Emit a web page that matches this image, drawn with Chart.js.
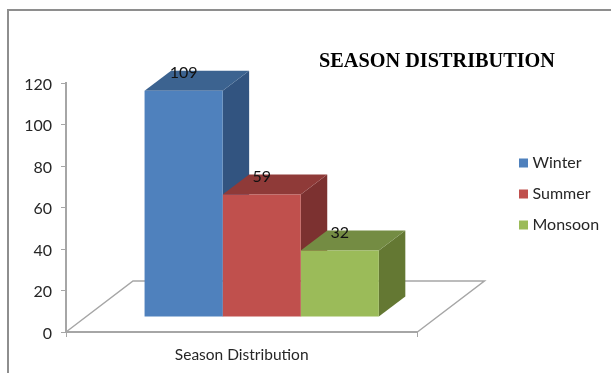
<!DOCTYPE html>
<html>
<head>
<meta charset="utf-8">
<title>Season Distribution</title>
<script src="https://cdn.jsdelivr.net/npm/chart.js@4"></script>
<style>
  html, body { margin: 0; background: #fff; overflow: hidden; }
  #frame { position: absolute; left: 7px; top: 9px; right: 0; bottom: 0;
           border-left: 2px solid #8e8e8e; border-top: 2px solid #8e8e8e; }
  #seasons { position: absolute; left: 0; top: 0; }
</style>
</head>
<body>
<div id="frame"></div>
<canvas id="seasons" width="611" height="373"></canvas>
<script>
// Chart data
const categories = ['Season Distribution'];
const seasons = ['Winter', 'Summer', 'Monsoon'];
const seasonValues = [109, 59, 32];
const yTicks = [0, 20, 40, 60, 80, 100, 120];

// Face colours per season: front, top, side
const frontColors = ['#4f81bd', '#c0504d', '#9bbb59'];
const topColors = ['#3c6390', '#8f3a38', '#748c43'];
const sideColors = ['#325480', '#7c3130', '#647833'];

// Fake 3D look: bars stand on a floor that sits behind the axis line
const barShift = 20;
const barLift = 15;
const depthX = 26.5;
const depthY = 20;
const floorX = 67;
const floorY = 51;

const uiFont = 'Lato, Carlito, sans-serif';

const box3d = {
    id: 'box3d',
    beforeDatasetsDraw(chart) {
        const ctx = chart.ctx;
        const area = chart.chartArea;

        // floor outline
        ctx.strokeStyle = '#a6a6a6';
        ctx.lineWidth = 1.5;
        ctx.beginPath();
        ctx.moveTo(area.left, area.bottom);
        ctx.lineTo(area.left + floorX, area.bottom - floorY);
        ctx.lineTo(area.right + floorX, area.bottom - floorY);
        ctx.lineTo(area.right, area.bottom);
        ctx.stroke();

        // top and side faces, left to right so each box hides the one behind it
        ctx.save();
        ctx.translate(barShift, -barLift);
        seasons.forEach((name, i) => {
            const bar = chart.getDatasetMeta(i).data[0];
            const left = bar.x - bar.width / 2;
            const right = bar.x + bar.width / 2;

            ctx.fillStyle = sideColors[i];
            ctx.beginPath();
            ctx.moveTo(right, bar.y);
            ctx.lineTo(right + depthX, bar.y - depthY);
            ctx.lineTo(right + depthX, bar.base - depthY);
            ctx.lineTo(right, bar.base);
            ctx.closePath();
            ctx.fill();

            ctx.fillStyle = topColors[i];
            ctx.beginPath();
            ctx.moveTo(left, bar.y);
            ctx.lineTo(left + depthX, bar.y - depthY);
            ctx.lineTo(right + depthX, bar.y - depthY);
            ctx.lineTo(right, bar.y);
            ctx.closePath();
            ctx.fill();
        });
        ctx.restore();

        // the library then paints the front faces inside this offset
        ctx.save();
        ctx.translate(barShift, -barLift);
    },
    afterDatasetsDraw(chart) {
        const ctx = chart.ctx;
        ctx.restore();

        // value labels over the top faces
        ctx.fillStyle = '#111';
        ctx.font = '16px ' + uiFont;
        ctx.textAlign = 'center';
        ctx.textBaseline = 'middle';
        seasonValues.forEach((value, i) => {
            const bar = chart.getDatasetMeta(i).data[0];
            ctx.fillText(value, bar.x + barShift, bar.y - barLift - 17.5);
        });
    },
    afterLayout(chart) {
        // legend and title sit in fixed spots to the right of the plot
        const legend = chart.legend;
        legend.left = 507.5;
        legend.right = 611;
        legend.top = 140;
        legend.bottom = 373;

        const title = chart.titleBlock;
        title.left = 319;
        title.right = 555;
        title.width = 236;
    }
};

new Chart(document.getElementById('seasons'), {
    type: 'bar',
    data: {
        labels: categories,
        datasets: seasons.map((name, i) => ({
            label: name,
            data: [seasonValues[i]],
            backgroundColor: frontColors[i]
        }))
    },
    options: {
        responsive: false,
        animation: false,
        datasets: { bar: { barPercentage: 1, categoryPercentage: 2 / 3 } },
        layout: { padding: { top: 50, right: 92, left: 0, bottom: 0 } },
        plugins: {
            title: {
                display: true,
                text: 'SEASON DISTRIBUTION',
                color: '#000',
                font: { family: '"Liberation Serif", serif', size: 20.3, weight: 'bold', lineHeight: 1.2 },
                padding: { top: 0, bottom: 8.64 }
            },
            legend: {
                position: 'right',
                align: 'start',
                labels: {
                    // thin box with a heavy stroke keeps the text close to the swatch
                    boxWidth: 2,
                    boxHeight: 2,
                    padding: 15,
                    color: '#262626',
                    font: { family: uiFont, size: 16 },
                    generateLabels(chart) {
                        const items = Chart.defaults.plugins.legend.labels.generateLabels(chart);
                        items.forEach(item => {
                            item.strokeStyle = item.fillStyle;
                            item.lineWidth = 7;
                            item.lineJoin = 'miter';
                        });
                        return items;
                    }
                }
            },
            tooltip: { enabled: false }
        },
        scales: {
            x: {
                afterFit(scale) { scale.height = 41; },
                border: { color: '#a6a6a6', width: 2 },
                grid: { drawOnChartArea: false, tickLength: 5, tickColor: '#a6a6a6' },
                ticks: { color: '#262626', font: { family: uiFont, size: 15.5 }, padding: 9 }
            },
            y: {
                min: 0,
                max: 120,
                afterFit(scale) { scale.width = 66; },
                afterBuildTicks(scale) { scale.ticks = yTicks.map(v => ({ value: v })); },
                border: { color: '#a6a6a6', width: 2 },
                grid: { drawOnChartArea: false, tickLength: 5, tickColor: '#a6a6a6' },
                ticks: { color: '#262626', font: { family: uiFont, size: 16 }, padding: 9, labelOffset: 1.5 }
            }
        }
    },
    plugins: [box3d]
});
</script>
</body>
</html>
